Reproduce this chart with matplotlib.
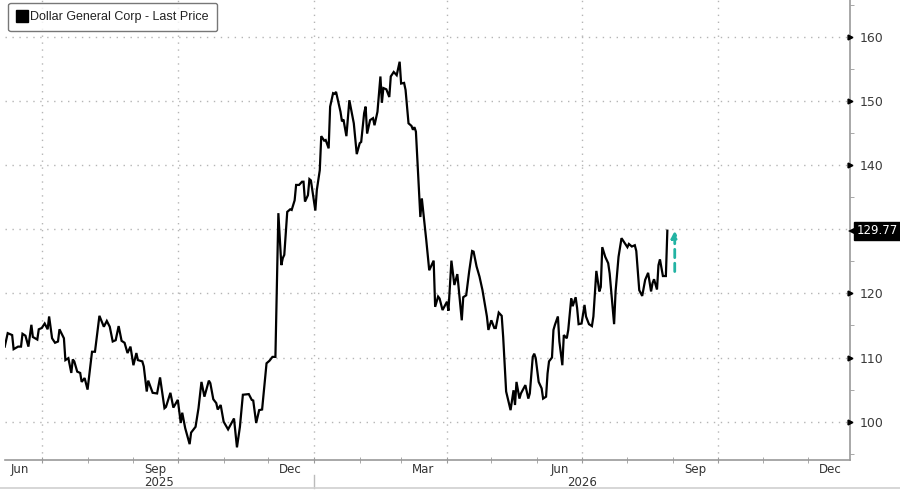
import matplotlib
matplotlib.use("Agg")
import matplotlib.pyplot as plt
import matplotlib.dates as mdates
from matplotlib.lines import Line2D
import matplotlib.transforms as mtransforms
import pandas as pd

plt.rcParams['font.family'] = ['DejaVu Sans']

dates = [
    "2025-06-06","2025-06-08","2025-06-11","2025-06-12","2025-06-15","2025-06-17","2025-06-18","2025-06-20",
    "2025-06-22","2025-06-24","2025-06-25","2025-06-28","2025-06-29","2025-07-01","2025-07-03","2025-07-05",
    "2025-07-06","2025-07-08","2025-07-10","2025-07-12","2025-07-13","2025-07-16","2025-07-17","2025-07-19",
    "2025-07-21","2025-07-22","2025-07-23","2025-07-25","2025-07-27","2025-07-28","2025-07-30","2025-08-01",
    "2025-08-04","2025-08-06","2025-08-08","2025-08-09","2025-08-12","2025-08-14","2025-08-16","2025-08-18",
    "2025-08-20","2025-08-22","2025-08-24","2025-08-26","2025-08-28","2025-08-30","2025-09-01","2025-09-03",
    "2025-09-04","2025-09-07","2025-09-08","2025-09-10","2025-09-11","2025-09-14","2025-09-17","2025-09-19",
    "2025-09-22","2025-09-23","2025-09-26","2025-09-28","2025-10-01","2025-10-03","2025-10-04","2025-10-06",
    "2025-10-09","2025-10-10","2025-10-13","2025-10-15","2025-10-17","2025-10-19","2025-10-22","2025-10-23",
    "2025-10-25","2025-10-27","2025-10-28","2025-10-30","2025-11-01","2025-11-04","2025-11-08","2025-11-10",
    "2025-11-12","2025-11-14","2025-11-18","2025-11-20","2025-11-21","2025-11-23","2025-11-25","2025-11-27",
    "2025-11-30","2025-12-02","2025-12-04","2025-12-06","2025-12-08","2025-12-10","2025-12-11","2025-12-12",
    "2025-12-14","2025-12-16","2025-12-17","2025-12-19","2025-12-20","2025-12-22","2025-12-24","2025-12-25",
    "2025-12-26","2025-12-28","2025-12-29","2025-12-30","2026-01-02","2026-01-03","2026-01-05","2026-01-06",
    "2026-01-08","2026-01-09","2026-01-11","2026-01-12","2026-01-14","2026-01-15","2026-01-16","2026-01-19",
    "2026-01-20","2026-01-21","2026-01-23","2026-01-25","2026-01-28","2026-01-30","2026-02-01","2026-02-02",
    "2026-02-04","2026-02-05","2026-02-06","2026-02-08","2026-02-10","2026-02-11","2026-02-13","2026-02-15",
    "2026-02-16","2026-02-17","2026-02-19","2026-02-21","2026-02-22","2026-02-24","2026-02-26","2026-02-28",
    "2026-03-01","2026-03-03","2026-03-04","2026-03-06","2026-03-08","2026-03-09","2026-03-10","2026-03-11",
    "2026-03-14","2026-03-15","2026-03-18","2026-03-20","2026-03-23","2026-03-24","2026-03-26","2026-03-27",
    "2026-03-29","2026-04-01","2026-04-02","2026-04-04","2026-04-06","2026-04-08","2026-04-11","2026-04-12",
    "2026-04-14","2026-04-16","2026-04-18","2026-04-19","2026-04-21","2026-04-23","2026-04-25","2026-04-28",
    "2026-04-29","2026-05-01","2026-05-03","2026-05-04","2026-05-06","2026-05-08","2026-05-09","2026-05-11",
    "2026-05-14","2026-05-16","2026-05-17","2026-05-18","2026-05-20","2026-05-21","2026-05-24","2026-05-26",
    "2026-05-27","2026-05-29","2026-05-30","2026-05-31","2026-06-02","2026-06-04","2026-06-05","2026-06-07",
    "2026-06-08","2026-06-09","2026-06-11","2026-06-12","2026-06-13","2026-06-15","2026-06-16","2026-06-18",
    "2026-06-19","2026-06-21","2026-06-22","2026-06-24","2026-06-25","2026-06-27","2026-06-28","2026-06-29",
    "2026-07-01","2026-07-03","2026-07-04","2026-07-06","2026-07-08","2026-07-09","2026-07-11","2026-07-13",
    "2026-07-14","2026-07-15","2026-07-17","2026-07-19","2026-07-20","2026-07-23","2026-07-24","2026-07-26",
    "2026-07-28","2026-07-30","2026-08-01","2026-08-02","2026-08-04","2026-08-06","2026-08-07","2026-08-09",
    "2026-08-11","2026-08-13","2026-08-15","2026-08-17","2026-08-18","2026-08-19","2026-08-21","2026-08-22",
    "2026-08-23","2026-08-25","2026-08-27","2026-08-28",
]

prices = [
    111.7,113.8,113.5,111.3,111.7,111.7,113.7,113.4,
    111.7,115.1,113.2,112.8,114.4,114.6,115.3,114.4,
    116.4,113.0,112.3,112.5,114.4,113.0,109.6,109.9,
    107.6,109.7,109.4,107.8,107.6,106.2,106.8,105.0,
    110.9,110.9,114.6,116.5,114.8,115.7,114.8,112.5,
    112.7,114.9,112.6,112.3,110.7,111.7,108.8,110.7,
    109.6,109.4,108.6,104.7,106.4,104.5,104.4,106.9,
    102.1,102.3,104.5,102.2,103.4,99.8,101.4,99.0,
    96.5,98.3,99.2,102.1,106.2,103.9,106.4,106.0,
    103.5,102.9,101.9,102.6,100.0,98.8,100.5,96.0,
    99.2,104.2,104.3,103.4,103.3,99.8,101.8,101.9,
    109.1,109.5,110.1,110.1,132.5,124.4,125.5,126.0,
    132.7,133.1,133.0,134.5,136.9,136.9,137.4,137.4,
    134.3,135.3,137.8,137.6,132.9,136.1,139.2,144.5,
    143.8,143.9,142.6,149.1,151.2,151.1,151.4,148.3,
    146.8,147.1,144.5,150.1,146.5,141.7,143.4,143.6,
    148.1,149.1,144.9,147.0,147.3,146.2,148.3,153.8,
    149.7,152.0,151.8,150.6,153.8,154.5,154.0,156.1,
    152.7,152.8,151.7,146.5,146.1,145.5,145.9,145.2,
    131.9,134.8,128.3,123.6,125.1,117.9,119.5,119.2,
    117.4,118.7,117.3,125.1,121.3,123.0,115.8,119.4,
    119.7,123.4,126.6,126.5,124.2,122.6,120.5,116.4,
    114.3,115.8,114.6,114.6,117.0,116.5,113.2,104.7,
    101.8,104.9,102.6,106.2,103.6,104.4,105.7,103.6,
    104.4,110.1,110.6,109.9,106.2,105.2,103.6,103.9,
    107.5,109.4,110.0,114.3,115.1,116.4,112.5,108.8,
    113.5,113.0,114.3,119.2,118.0,119.4,117.7,115.2,
    115.3,118.2,116.4,115.2,114.9,116.4,123.5,120.3,
    121.0,127.2,125.7,124.7,123.1,115.2,120.3,125.7,
    128.6,127.9,127.2,127.7,127.3,127.5,126.6,120.5,
    119.6,122.1,123.2,120.3,121.6,122.2,120.6,124.4,
    125.3,122.7,122.7,129.77,
]

series_name = "Dollar General Corp - Last Price"
last_price = 129.77
arrow_date = "2026-09-02"
arrow_from = 123.4
y_ticks = [100, 110, 120, 130, 140, 150, 160]
y_tick_labels = ["100", "110", "120", "", "140", "150", "160"]
month_labels = [("2025-06-16", "Jun"), ("2025-09-16", "Sep"), ("2025-12-16", "Dec"),
                ("2026-03-16", "Mar"), ("2026-06-16", "Jun"), ("2026-09-16", "Sep"),
                ("2026-12-16", "Dec")]
years = ["2025", "2026"]
x_start = "2025-06-06 04:00"
x_end = "2026-12-29 12:00"
y_range = (94.03, 165.72)

x = pd.to_datetime(dates)

fig = plt.figure(figsize=(9, 4.9), dpi=100)
ax = fig.add_axes([5/900, 30/490, 845/900, 460/490])

ax.plot(x, prices, color="black", lw=1.6, solid_joinstyle="miter", zorder=3)

ax.set_xlim(pd.Timestamp(x_start), pd.Timestamp(x_end))
ax.set_ylim(*y_range)

# spines
for s in ["top", "left"]:
    ax.spines[s].set_visible(False)
ax.spines["right"].set_color("#9a9a9a")
ax.spines["bottom"].set_color("#9a9a9a")
ax.spines["right"].set_linewidth(1.2)
ax.spines["bottom"].set_linewidth(1.2)

# y axis on right
ax.yaxis.tick_right()
ax.set_yticks(y_ticks)
ax.set_yticklabels(y_tick_labels)
ax.yaxis.set_minor_locator(matplotlib.ticker.MultipleLocator(5))
ax.tick_params(axis="y", which="major", length=0, pad=7, labelsize=9, labelcolor="#3a3a3a")
ax.tick_params(axis="y", which="minor", length=3, color="#9a9a9a", direction="out")
ytrans = mtransforms.blended_transform_factory(ax.transAxes, ax.transData)
for t in y_ticks:
    if t == 130:
        continue
    ax.plot([1.0], [t], marker=">", ms=3.5, color="black", transform=ytrans, clip_on=False, zorder=5)

# x axis
ax.xaxis.set_major_locator(mdates.MonthLocator(bymonth=[1, 4, 7, 10]))
ax.xaxis.set_minor_locator(mdates.MonthLocator())
ax.xaxis.set_major_formatter(matplotlib.ticker.NullFormatter())
ax.tick_params(axis="x", which="both", length=4, color="#9a9a9a", direction="inout")

ax.grid(True, which="major", color="#b5b5b5", lw=1.0, ls=(0, (1, 4)))
ax.set_axisbelow(True)

xtrans = ax.get_xaxis_transform()
for d, lab in month_labels:
    ax.text(pd.Timestamp(d), -9/460, lab, transform=xtrans, ha="center", va="center",
            fontsize=8.5, color="#333333", clip_on=False)

x0 = pd.Timestamp(x_start)
x1 = pd.Timestamp(x_end)
ny = pd.Timestamp("2026-01-01")
ax.text(x0 + (ny - x0) / 2, -22/460, years[0], transform=xtrans, ha="center", va="center",
        fontsize=8.5, color="#333333", clip_on=False)
ax.text(ny + (x1 - ny) / 2, -22/460, years[1], transform=xtrans, ha="center", va="center",
        fontsize=8.5, color="#333333", clip_on=False)
ax.plot([ny, ny], [-15/460, -28/460], transform=xtrans, color="#bbbbbb", lw=1, clip_on=False)
fig.add_artist(Line2D([0, 1], [2/490, 2/490], color="#d0d0d0", lw=1.2))

# last price box (notched label)
notch = mtransforms.offset_copy(ytrans, fig=fig, x=2.5, y=0, units="dots")
ax.plot([1.0], [last_price], marker="<", ms=7, color="black", transform=notch,
        clip_on=False, zorder=6, markeredgewidth=0)
ax.annotate(f"{last_price:.2f}", xy=(1.0, last_price), xycoords=ytrans,
            xytext=(4.5, 0), textcoords="offset points", ha="left", va="center",
            fontsize=8.5, color="white",
            bbox=dict(boxstyle="square,pad=0.2", fc="black", ec="black"),
            annotation_clip=False, zorder=6)

# teal arrow
ax.annotate("", xy=(pd.Timestamp(arrow_date), last_price), xytext=(pd.Timestamp(arrow_date), arrow_from),
            arrowprops=dict(arrowstyle="-|>", color="#22b3a3", lw=2, ls=(0, (3, 2)),
                            mutation_scale=10, shrinkA=0, shrinkB=0), zorder=4)

# legend
handle = Line2D([], [], marker="s", color="black", ls="none", ms=8)
leg = ax.legend([handle], [series_name], loc="upper left", bbox_to_anchor=(3/845, 1 - 3/460),
                prop={"family": ["Liberation Sans", "DejaVu Sans"], "size": 9},
                frameon=True, fancybox=True, handletextpad=0.15, handlelength=1.0,
                borderpad=0.65, borderaxespad=0)
leg.get_frame().set_edgecolor("#555555")
leg.get_frame().set_linewidth(1.0)
for t in leg.get_texts():
    t.set_color("#222222")

fig.savefig("out.png", dpi=100)
